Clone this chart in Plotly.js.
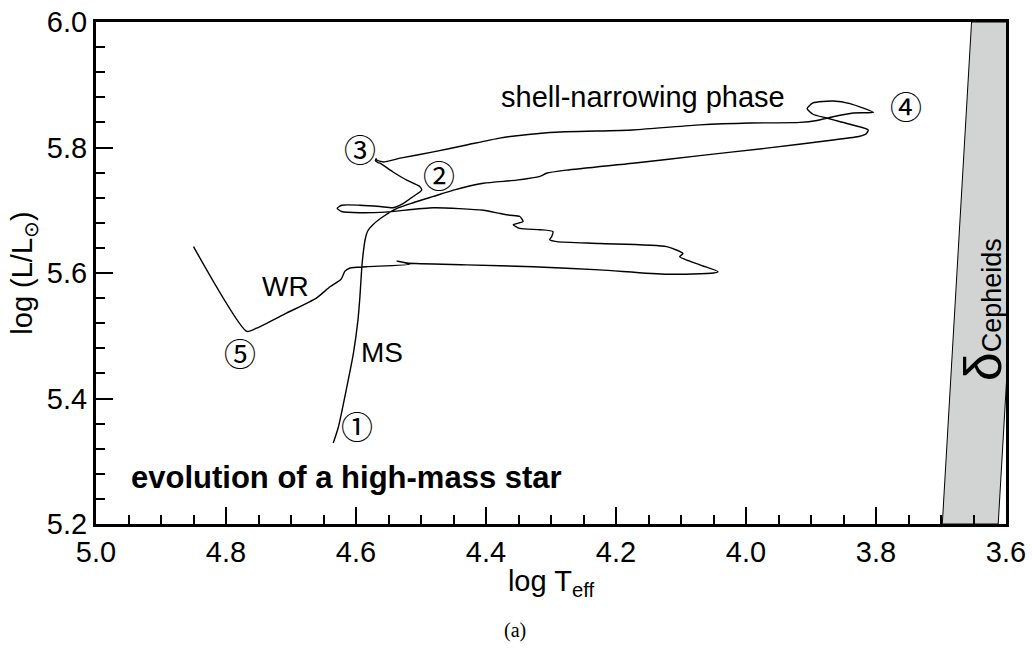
<!DOCTYPE html>
<html>
<head>
<meta charset="utf-8">
<script src="https://cdn.plot.ly/plotly-3.0.1.min.js"></script>
<style>
  html, body { margin: 0; padding: 0; background: #ffffff; }
  #chart { width: 1032px; height: 648px; }
</style>
</head>
<body>
<div id="chart"></div>
<script>
// ---- data ----
const trackLogT = [
  4.635, 4.627, 4.614, 4.604, 4.597, 4.594, 4.591, 4.589, 4.586, 4.582,
  4.574, 4.558, 4.537, 4.512, 4.481, 4.450, 4.404, 4.353, 4.317, 4.307,
  4.276, 4.174, 4.071, 3.968, 3.866, 3.825, 3.815, 3.812, 3.825, 3.855,
  3.876, 3.897, 3.906, 3.897, 3.866, 3.840, 3.804, 3.835, 3.866, 3.891,
  3.917, 3.994, 4.071, 4.174, 4.302, 4.379, 4.430, 4.481, 4.532, 4.558,
  4.568, 4.569, 4.570, 4.566, 4.563, 4.543, 4.522, 4.502, 4.499, 4.512,
  4.527, 4.543, 4.563, 4.594, 4.622, 4.629, 4.622, 4.594, 4.555, 4.481,
  4.404, 4.379, 4.363, 4.348, 4.343, 4.358, 4.348, 4.317, 4.297, 4.299,
  4.302, 4.291, 4.225, 4.122, 4.097, 4.102, 4.071, 4.043, 4.050, 4.122,
  4.225, 4.327, 4.430, 4.522, 4.537, 4.517, 4.584, 4.609, 4.617, 4.623,
  4.640, 4.661, 4.707, 4.753, 4.768, 4.850
];
const trackLogL = [
  5.329, 5.355, 5.419, 5.472, 5.525, 5.562, 5.610, 5.631, 5.653, 5.667,
  5.677, 5.690, 5.703, 5.712, 5.722, 5.732, 5.743, 5.748, 5.754, 5.759,
  5.764, 5.775, 5.787, 5.799, 5.812, 5.818, 5.822, 5.828, 5.833, 5.841,
  5.847, 5.853, 5.862, 5.871, 5.874, 5.870, 5.856, 5.855, 5.849, 5.843,
  5.840, 5.839, 5.836, 5.828, 5.824, 5.815, 5.804, 5.793, 5.783, 5.777,
  5.780, 5.782, 5.779, 5.776, 5.775, 5.761, 5.748, 5.738, 5.732, 5.722,
  5.711, 5.704, 5.706, 5.708, 5.708, 5.703, 5.698, 5.696, 5.697, 5.704,
  5.700, 5.695, 5.692, 5.690, 5.682, 5.677, 5.671, 5.669, 5.666, 5.658,
  5.653, 5.650, 5.647, 5.642, 5.631, 5.626, 5.613, 5.602, 5.600, 5.598,
  5.605, 5.610, 5.613, 5.616, 5.619, 5.614, 5.610, 5.608, 5.603, 5.590,
  5.578, 5.560, 5.536, 5.512, 5.507, 5.642
];

// delta Cepheid instability strip (edges)
const stripLogT = [3.698, 3.653, 3.567, 3.612, 3.698];
const stripLogL = [5.20, 6.00, 6.00, 5.20, 5.20];

// stage markers and labels
const stageLabels = ['①', '②', '③', '④', '⑤'];
const stageLogT  = [4.5985, 4.4723, 4.5938, 3.7538, 4.7785];
const stageLogL  = [5.358, 5.7578, 5.7992, 5.8677, 5.4741];

const phaseLabels = ['WR', 'MS'];
const phaseLogT   = [4.709, 4.560];
const phaseLogL   = [5.579, 5.474];

// axis ticks (major label values and minor spacing)
const xTickVals = [5.0, 4.8, 4.6, 4.4, 4.2, 4.0, 3.8, 3.6];
const yTickVals = [5.2, 5.4, 5.6, 5.8, 6.0];
const xMinorStep = 0.05;
const yMinorStep = 0.04;

// ---- chart ----
const FONT = 'Liberation Sans, Arial, Helvetica, sans-serif';
const X_RANGE = [xTickVals[0], xTickVals[xTickVals.length - 1]];
const Y_RANGE = [yTickVals[0], yTickVals[yTickVals.length - 1]];
const X_DTICK = +(xTickVals[0] - xTickVals[1]).toFixed(3);
const Y_DTICK = +(yTickVals[1] - yTickVals[0]).toFixed(3);

const traces = [
  {
    x: stripLogT, y: stripLogL,
    type: 'scatter', mode: 'lines',
    fill: 'toself', fillcolor: '#d2d3d3',
    line: { color: '#000000', width: 1 },
    hoverinfo: 'skip', showlegend: false
  },
  {
    x: trackLogT, y: trackLogL,
    type: 'scatter', mode: 'lines',
    line: { color: '#000000', width: 1.4, shape: 'spline', smoothing: 0.6 },
    hoverinfo: 'skip', showlegend: false
  }
];

const annotations = [];
for (let i = 0; i < stageLabels.length; i++) {
  annotations.push({
    x: stageLogT[i], y: stageLogL[i], xref: 'x', yref: 'y',
    text: stageLabels[i], showarrow: false,
    font: { family: 'Noto Sans CJK JP, DejaVu Sans, sans-serif', size: 32, color: '#000' },
    xanchor: 'center', yanchor: 'middle'
  });
}
for (let i = 0; i < phaseLabels.length; i++) {
  annotations.push({
    x: phaseLogT[i], y: phaseLogL[i], xref: 'x', yref: 'y',
    text: phaseLabels[i], showarrow: false,
    font: { family: FONT, size: 28, color: '#000' },
    xanchor: 'center', yanchor: 'middle'
  });
}
annotations.push({
  x: 4.380, y: 5.880, xref: 'x', yref: 'y',
  text: 'shell-narrowing phase', showarrow: false,
  font: { family: FONT, size: 29, color: '#000' },
  xanchor: 'left', yanchor: 'middle'
});
annotations.push({
  x: 4.949, y: 5.2749, xref: 'x', yref: 'y',
  text: '<b>evolution of a high-mass star</b>', showarrow: false,
  font: { family: FONT, size: 31, color: '#000' },
  xanchor: 'left', yanchor: 'middle'
});
annotations.push({
  x: 3.635, y: 5.541, xref: 'x', yref: 'y',
  text: '<span style="font-size:52px">δ</span>Cepheids', showarrow: false,
  textangle: -90,
  font: { family: FONT, size: 27, color: '#000' },
  xanchor: 'center', yanchor: 'middle'
});
annotations.push({
  x: 0.46, y: -0.213, xref: 'paper', yref: 'paper',
  text: '(a)', showarrow: false,
  font: { family: 'Liberation Serif, DejaVu Serif, serif', size: 20, color: '#000' },
  xanchor: 'center', yanchor: 'middle'
});

const layout = {
  width: 1032, height: 648,
  margin: { l: 96, r: 26, t: 22, b: 124 },
  paper_bgcolor: '#ffffff', plot_bgcolor: '#ffffff',
  showlegend: false,
  xaxis: {
    range: X_RANGE, autorange: false,
    showgrid: false, zeroline: false,
    showline: true, linecolor: 'black', linewidth: 3, mirror: true,
    ticks: 'inside', ticklen: 17, tickwidth: 2, tickcolor: 'black',
    dtick: X_DTICK, tick0: X_RANGE[1], tickformat: '.1f',
    tickfont: { family: FONT, size: 29, color: '#000' },
    minor: { ticks: 'inside', dtick: xMinorStep, ticklen: 9, tickcolor: 'black', tickwidth: 2 },
    title: { text: 'log T<sub>eff</sub>', font: { family: FONT, size: 29, color: '#000' }, standoff: 4 }
  },
  yaxis: {
    range: Y_RANGE, autorange: false,
    showgrid: false, zeroline: false,
    showline: true, linecolor: 'black', linewidth: 3, mirror: true,
    ticks: 'inside', ticklen: 17, tickwidth: 2, tickcolor: 'black',
    dtick: Y_DTICK, tick0: Y_RANGE[0], tickformat: '.1f',
    tickfont: { family: FONT, size: 29, color: '#000' },
    minor: { ticks: 'inside', dtick: yMinorStep, ticklen: 9, tickcolor: 'black', tickwidth: 2 },
    title: { text: 'log (L/L<sub>⊙</sub>)', font: { family: FONT, size: 29, color: '#000' }, standoff: 6 }
  },
  annotations: annotations
};

Plotly.newPlot('chart', traces, layout, { displayModeBar: false });
</script>
</body>
</html>
